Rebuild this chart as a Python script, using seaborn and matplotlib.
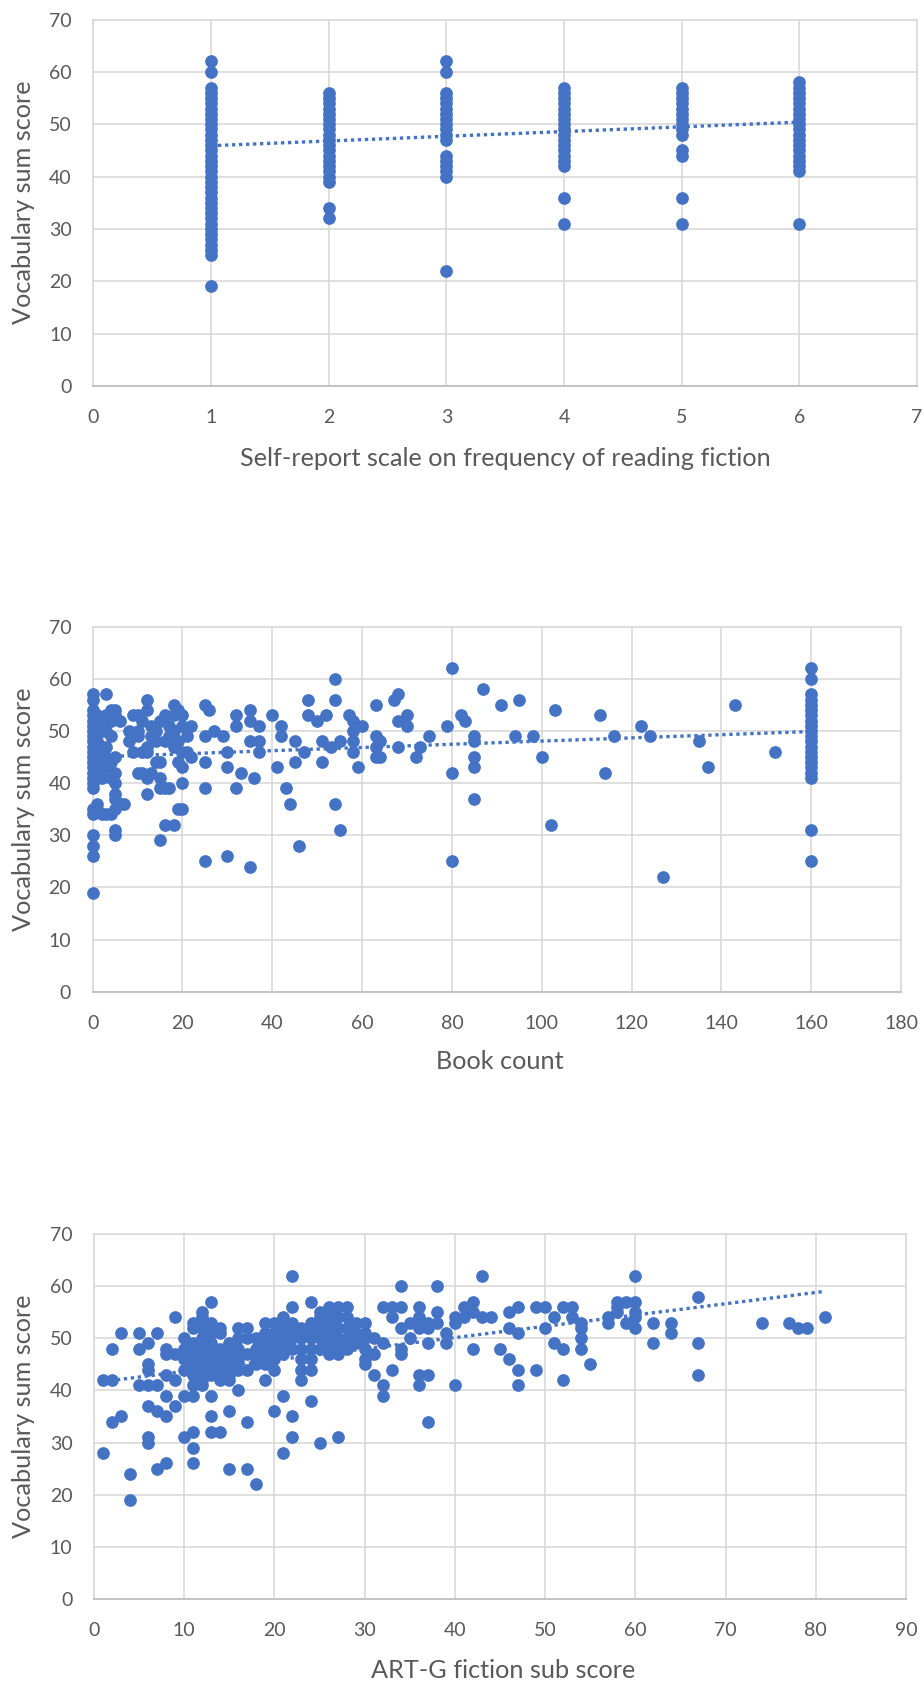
import matplotlib
matplotlib.use("Agg")
import matplotlib.pyplot as plt
import seaborn as sns
import pandas as pd

# --- Panel 1: self-report frequency of reading fiction ---
freq_levels = [1, 2, 3, 4, 5, 6]
freq_vocab = [
    [62, 60, 57, 56, 55, 54, 53, 52, 51, 50, 49, 48, 47, 46, 45, 44, 43, 42, 41,
     40, 39, 38, 37, 36, 35, 34, 33, 32, 31, 30, 29, 28, 27, 26, 25, 19],
    [56, 55, 54, 53, 52, 51, 50, 49, 48, 47, 46, 45, 44, 43, 42, 41, 40, 39, 34, 32],
    [62, 60, 56, 55, 54, 53, 52, 51, 50, 49, 48, 47, 44, 43, 42, 41, 40, 22],
    [57, 56, 55, 54, 53, 52, 51, 50, 49, 48, 47, 46, 45, 44, 43, 42, 36, 31],
    [57, 56, 55, 54, 53, 52, 51, 50, 49, 48, 45, 44, 36, 31],
    [58, 57, 56, 55, 54, 53, 52, 51, 50, 49, 48, 47, 46, 45, 44, 43, 42, 41, 31],
]
freq_trend_x = [1, 6]
freq_trend_y = [45.9, 50.4]
freq_ticks = [0, 1, 2, 3, 4, 5, 6, 7]

# --- Panel 2: book count ---
book_count = [0, 1, 2, 3, 4, 5, 6, 7, 8, 9, 10, 11, 12, 13, 14, 15, 16, 17, 18, 19,
              20, 21, 22, 25, 26, 27, 29, 30, 32, 33, 35, 36, 37, 40, 41, 42, 43, 44,
              45, 46, 47, 48, 50, 51, 52, 53, 54, 55, 57, 58, 59, 60, 63, 64, 67, 68,
              70, 72, 73, 75, 79, 80, 82, 83, 85, 87, 91, 94, 95, 98, 100, 102, 103,
              113, 114, 116, 122, 124, 127, 135, 137, 143, 152, 160]
book_vocab = [
    [57, 56, 54, 53, 52, 51, 50, 49, 48, 47, 46, 45, 44, 43, 42, 41, 40, 39, 35, 34, 30, 28, 26, 19],
    [53, 51, 48, 46, 43, 42, 36, 35],
    [52, 50, 47, 44, 41, 34],
    [57, 53, 50, 47, 45, 43, 34],
    [54, 52, 49, 44, 41, 34],
    [54, 53, 45, 42, 40, 38, 37, 35, 31, 30],
    [52, 36],
    [36],
    [50, 48],
    [53, 46],
    [53, 50, 49, 42],
    [52, 46, 42],
    [56, 54, 47, 46, 41, 38],
    [51, 49, 42],
    [50, 48, 44],
    [52, 44, 41, 39, 29],
    [53, 48, 39, 32],
    [51, 49, 39],
    [55, 53, 50, 47, 32],
    [54, 48, 44, 35],
    [53, 51, 46, 43, 40, 35],
    [49, 46],
    [51, 45],
    [55, 49, 44, 39, 25],
    [54],
    [50],
    [49],
    [46, 43, 26],
    [53, 51, 39],
    [42],
    [54, 52, 48, 24],
    [41],
    [51, 48, 46],
    [53],
    [43],
    [51, 49],
    [39],
    [36],
    [48, 44],
    [28],
    [46],
    [56, 53],
    [52],
    [48, 44],
    [53],
    [47],
    [60, 56, 36],
    [48, 31],
    [53],
    [52, 50, 48, 46],
    [43],
    [51],
    [55, 49, 47, 45],
    [48, 45],
    [56],
    [57, 52, 47],
    [53, 51],
    [45],
    [47],
    [49],
    [51],
    [62, 42, 25],
    [53],
    [52],
    [49, 48, 45, 43, 37],
    [58],
    [55],
    [49],
    [56],
    [49],
    [45],
    [32],
    [54],
    [53],
    [42],
    [49],
    [51],
    [49],
    [22],
    [48],
    [43],
    [55],
    [46],
    [62, 60, 57, 56, 55, 54, 53, 52, 51, 50, 49, 48, 47, 46, 45, 44, 43, 42, 41, 31, 25],
]
book_trend_x = [0, 160]
book_trend_y = [45.0, 49.9]
book_ticks = [0, 20, 40, 60, 80, 100, 120, 140, 160, 180]

# --- Panel 3: ART-G fiction sub score ---
artg_score = [1, 2, 3, 4, 5, 6, 7, 8, 9, 10, 11, 12, 13, 14, 15, 16, 17, 18, 19, 20,
              21, 22, 23, 24, 25, 26, 27, 28, 29, 30, 31, 32, 33, 34, 35, 36, 37, 38,
              39, 40, 41, 42, 43, 44, 45, 46, 47, 49, 50, 51, 52, 53, 54, 55, 57, 58,
              59, 60, 62, 64, 67, 74, 77, 78, 79, 81]
artg_vocab = [
    [42, 28],
    [48, 42, 34],
    [51, 35],
    [24, 19],
    [51, 48, 41],
    [49, 45, 44, 41, 37, 31, 30],
    [51, 41, 36, 25],
    [48, 47, 43, 39, 35, 26],
    [54, 47, 42, 37],
    [50, 48, 46, 44, 39, 31],
    [53, 52, 49, 47, 45, 43, 41, 39, 32, 29, 26],
    [55, 54, 52, 50, 48, 46, 44, 42, 41],
    [57, 53, 51, 49, 47, 45, 43, 39, 35, 32],
    [52, 51, 48, 46, 44, 42, 32],
    [49, 47, 45, 43, 42, 36, 25],
    [52, 50, 48, 46, 44, 40],
    [52, 50, 47, 44, 34, 25],
    [50, 48, 46, 45, 22],
    [53, 51, 49, 47, 45, 42],
    [53, 51, 50, 48, 46, 44, 36],
    [54, 52, 50, 49, 47, 39, 28],
    [62, 56, 53, 51, 50, 48, 35, 31],
    [52, 50, 48, 46, 44, 42],
    [57, 53, 51, 50, 48, 46, 44, 38],
    [55, 54, 52, 50, 48, 30],
    [56, 55, 53, 51, 49, 47],
    [56, 54, 52, 50, 48, 47, 31],
    [56, 54, 52, 50, 49, 48],
    [53, 51, 50, 49],
    [53, 51, 50, 48, 46, 45],
    [50, 47, 43],
    [56, 49, 41, 39],
    [56, 54, 44],
    [60, 56, 52, 48, 47],
    [53, 50],
    [56, 54, 53, 52, 43, 41],
    [53, 52, 49, 43, 34],
    [60, 55, 53],
    [51, 49],
    [54, 53, 41],
    [56, 54],
    [57, 55, 48],
    [62, 54],
    [54],
    [48],
    [55, 52, 46],
    [56, 51, 44, 41],
    [56, 44],
    [56, 52],
    [54, 49],
    [56, 48, 42],
    [56, 54],
    [53, 52, 50, 48],
    [45],
    [54, 53],
    [57, 56, 55],
    [57, 53],
    [62, 57, 55, 54, 52],
    [53, 49],
    [53, 51],
    [58, 49, 43],
    [53],
    [53],
    [52],
    [52],
    [54],
]
artg_trend_x = [1, 81]
artg_trend_y = [41.7, 59.0]
artg_ticks = [0, 10, 20, 30, 40, 50, 60, 70, 80, 90]

vocab_ticks = [0, 10, 20, 30, 40, 50, 60, 70]
y_label = "Vocabulary sum score"

BLUE = "#4472C4"
TEXT = "#595959"
GRID = "#D9D9D9"


def to_frame(xs, groups):
    rows = [(x, v) for x, vals in zip(xs, groups) for v in vals]
    return pd.DataFrame(rows, columns=["x", "vocab"])


def draw_panel(ax, df, trend_x, trend_y, xticks, xlabel):
    sns.scatterplot(data=df, x="x", y="vocab", ax=ax, color=BLUE, s=84,
                    linewidth=0, clip_on=False, zorder=3, legend=False)
    ax.plot(trend_x, trend_y, color=BLUE, lw=2.4, linestyle=(0, (1, 1.1)),
            zorder=4)
    ax.set_xlim(xticks[0], xticks[-1])
    ax.set_ylim(vocab_ticks[0], vocab_ticks[-1])
    ax.set_xticks(xticks)
    ax.set_yticks(vocab_ticks)
    ax.grid(True, color=GRID, lw=1.2)
    ax.set_axisbelow(True)
    for side in ["left", "right", "top"]:
        ax.spines[side].set_color(GRID)
        ax.spines[side].set_linewidth(1.2)
    ax.spines["bottom"].set_color("#BFBFBF")
    ax.spines["bottom"].set_linewidth(1.3)
    ax.tick_params(axis="both", length=0, labelsize=14, labelcolor=TEXT)
    ax.tick_params(axis="x", pad=16.5)
    ax.tick_params(axis="y", pad=15.5)
    ax.set_xlabel(xlabel, fontsize=18.2, color=TEXT, va="center")
    ax.set_ylabel(y_label, fontsize=18.2, color=TEXT, ha="center", va="center")


sns.set_theme(style="white")
plt.rcParams["font.family"] = ["Lato", "DejaVu Sans"]

fig = plt.figure(figsize=(9.24, 16.86), dpi=100)
ax1 = fig.add_axes([0.1010, 0.7711, 0.8915, 0.2173])
ax2 = fig.add_axes([0.1003, 0.4118, 0.8748, 0.2165])
ax3 = fig.add_axes([0.1017, 0.0516, 0.8788, 0.2165])

draw_panel(ax1, to_frame(freq_levels, freq_vocab), freq_trend_x, freq_trend_y,
           freq_ticks, "Self-report scale on frequency of reading fiction")
draw_panel(ax2, to_frame(book_count, book_vocab), book_trend_x, book_trend_y,
           book_ticks, "Book count")
draw_panel(ax3, to_frame(artg_score, artg_vocab), artg_trend_x, artg_trend_y,
           artg_ticks, "ART-G fiction sub score")

ax1.xaxis.set_label_coords(0.5, -0.199)
ax2.xaxis.set_label_coords(0.504, -0.192)
ax3.xaxis.set_label_coords(0.504, -0.195)
ax1.yaxis.set_label_coords(-0.0845, 0.5)
ax2.yaxis.set_label_coords(-0.0854, 0.5)
ax3.yaxis.set_label_coords(-0.0866, 0.5)

fig.savefig("out.png", dpi=100)
